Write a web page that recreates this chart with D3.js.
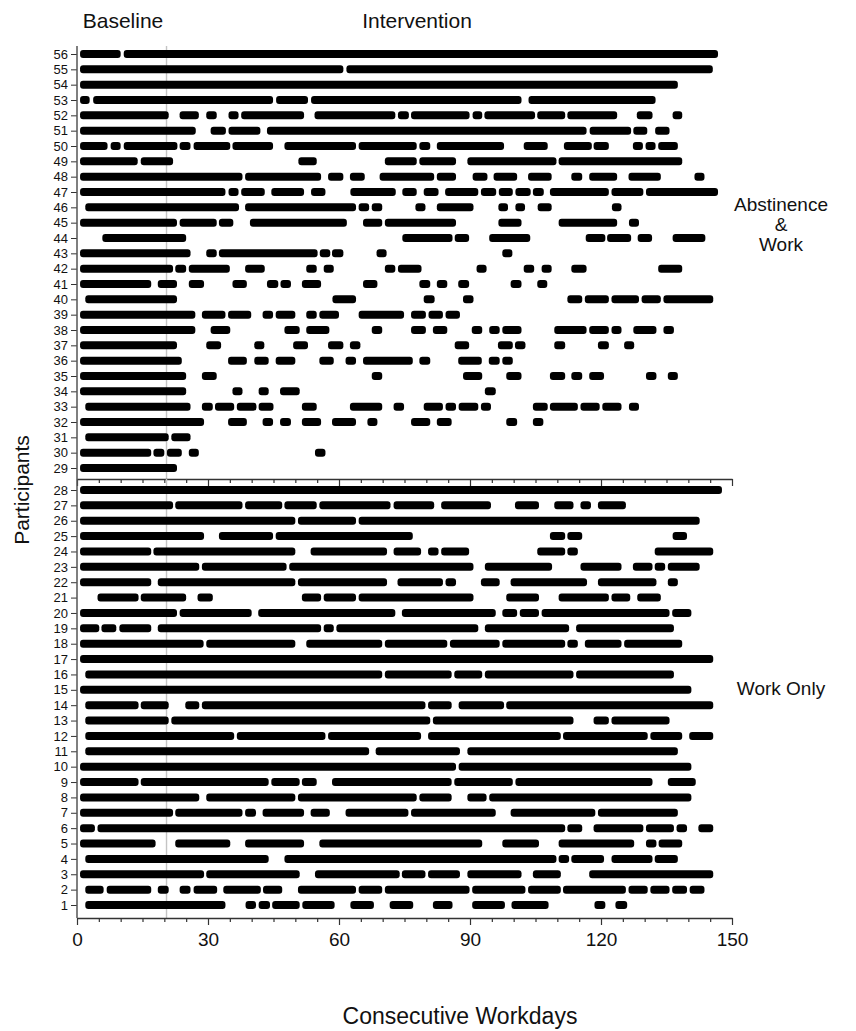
<!DOCTYPE html>
<html lang="en">
<head>
  <meta charset="utf-8">
  <title>Consecutive Workdays</title>
  <script src="https://d3js.org/d3.v7.min.js"></script>
  <style>
    body { margin: 0; background: #fff; }
    svg text { font-family: "Liberation Sans", Arial, Helvetica, sans-serif; fill: #111; }
  </style>
</head>
<body>
<div id="chart"></div>
<script>

// Runs of consecutive workdays per participant.
// Each row is a flat list of pairs: start, end, start, end, ... (in workdays)

// participants 1 .. 28
var workOnly = [
  [1.9,34, 38.6,41, 41.6,44.2, 44.7,51, 51.6,59, 62.6,68, 71.6,77, 81.5,86, 90.5,98, 99.5,108, 118.5,121, 123.3,126],
  [1.9,6.1, 6.8,17, 18.5,21, 23.5,26, 26.7,32.1, 33.5,42.1, 42.6,47, 50.6,63.9, 64.5,69.9, 70.5,89.9, 90.5,102.7, 103.3,110.8, 111.3,125.7, 126.3,130.7, 131.3,135.7, 136.3,139.7, 140.3,143.7],
  [0.7,29.1, 29.6,51, 54.5,73.9, 74.4,79.8, 80.4,87.7, 89.4,101.8, 104.4,110.8, 117.3,145.7],
  [1.9,43.9, 47.5,109.8, 110.3,112.7, 113.2,120.7, 122.4,131.8, 132.3,137.6],
  [0.7,18, 22.5,35.1, 38.5,52, 55.5,92.8, 97.4,105.8, 110.3,127.6, 130.3,132.7, 133.2,138.6],
  [0.7,4.1, 4.7,111.8, 112.3,115.7, 118.3,129.7, 130.3,136.7, 137.3,139.7, 142.3,145.7],
  [0.7,22, 22.5,37.9, 38.5,41, 42.5,52, 53.5,57.9, 61.5,75.9, 76.5,95.9, 99.3,118.7, 119.3,137.6],
  [0.7,28, 29.6,50, 50.6,77.8, 78.4,85.8, 89.4,93.8, 94.4,140.7],
  [0.7,14.1, 14.6,43.9, 44.5,51, 51.5,54.9, 58.4,85.8, 86.4,99.8, 100.4,131.8, 135.3,141.7],
  [0.7,86.8, 87.4,140.7],
  [1.9,66.9, 68.4,87.7, 89.4,137.6],
  [1.9,36, 36.6,56.9, 57.5,78.8, 80.4,110.8, 111.3,130.7, 131.3,138.6, 140.2,145.7],
  [1.9,21, 21.6,80.9, 81.5,113.7, 118.3,121.8, 122.4,135.7],
  [1.9,14.1, 14.6,21, 24.8,28, 28.6,79.8, 80.4,85.8, 87.4,97.8, 98.3,145.7],
  [0.7,140.7],
  [1.9,69.9, 70.5,85.8, 86.4,92.8, 93.4,113.7, 114.3,136.7],
  [0.7,145.7],
  [0.7,29, 29.6,50, 52.5,69.9, 70.5,84.8, 85.4,96.8, 97.4,111.8, 112.3,114.7, 116.3,124.7, 125.3,138.6],
  [0.7,5.1, 5.6,9, 9.7,17, 18.5,55.9, 56.5,58.8, 59.4,91.9, 93.4,112.7, 114.3,136.7],
  [0.7,22.9, 23.5,40, 41.5,72.9, 74.4,95.9, 97.4,100.8, 101.4,105.8, 106.4,135.7, 136.3,140.7],
  [4.7,14.1, 14.6,25, 27.6,31.1, 51.5,55.9, 56.5,63.9, 64.5,90.8, 98.3,105.8, 110.3,121.8, 122.4,126.7, 128.3,133.7],
  [0.7,17, 18.5,50, 50.6,71, 73.4,83.8, 84.4,86.8, 92.5,96.8, 99.3,116.8, 119.3,132.7, 135.3,137.6],
  [0.7,28, 28.6,48, 48.6,90.8, 93.4,108.8, 115.3,124.7, 127.3,131.8, 132.3,134.7, 135.3,142.6],
  [0.7,17, 17.5,50, 53.5,71, 72.5,78.8, 80.4,82.8, 83.4,89.8, 105.4,111.8, 112.3,114.7, 132.3,145.7],
  [0.7,29.1, 32.5,44.9, 45.5,76.9, 108.3,111.8, 112.3,115.7, 136.4,139.7],
  [0.7,50, 50.6,63.9, 64.5,142.6],
  [0.7,22, 22.5,37.9, 38.5,47, 47.5,54.9, 55.5,71.8, 72.5,81.8, 83.4,94.8, 100.3,105.8, 109.3,113.7, 115.3,117.7, 119.3,125.7],
  [0.7,147.7]
];

// participants 29 .. 56
var abstinenceWork = [
  [0.7,22.9],
  [0.7,17, 17.5,20, 20.6,24, 25.6,27.9, 54.5,56.9],
  [1.9,21, 21.6,26],
  [0.7,29.1, 34.6,38.9, 42.5,44.9, 46.5,49, 51.5,55.9, 58.4,63.9, 66.5,68.8, 76.5,80.9, 82.4,85.8, 98.3,100.8, 104.4,106.8],
  [1.9,26, 28.6,31.1, 31.6,36, 36.6,41.1, 41.6,45, 51.5,54.9, 62.5,69.9, 72.5,74.9, 79.4,83.8, 84.4,86.8, 87.4,91.9, 92.5,94.8, 104.4,107.8, 108.3,114.7, 115.3,119.7, 120.3,124.7, 126.4,128.7],
  [0.7,25, 35.6,37.9, 41.6,43.9, 46.5,51, 93.4,95.9],
  [0.7,25, 28.6,32, 67.5,69.9, 88.4,92.8, 98.3,101.8, 108.3,111.8, 113.2,115.7, 117.3,120.7, 130.3,132.7, 135.3,137.6],
  [0.7,24, 34.6,38.9, 40.6,43.9, 45.5,50, 55.5,58.8, 61.5,63.9, 65.5,76.9, 78.4,80.9, 87.3,92.7, 94.3,96.8, 97.4,99.8],
  [0.7,22.9, 29.6,33, 40.6,42.9, 49.5,52.9, 57.5,61, 62.5,64.9, 86.5,89.8, 96.4,99.8, 100.3,102.7, 109.3,111.8, 119.3,121.8, 125.3,127.6],
  [0.7,27.1, 30.6,35.1, 47.5,51, 52.5,57.8, 67.5,69.9, 76.5,79.9, 81.5,84.8, 90.4,92.8, 94.4,96.8, 97.4,101.8, 109.3,116.7, 117.3,121.8, 122.4,124.7, 127.4,132.7, 134.3,136.7],
  [0.7,27.1, 28.6,34, 34.6,39.9, 42.5,44.9, 45.5,50, 52.5,54.9, 55.5,60, 64.5,74.9, 76.5,79.9, 80.5,83.8, 84.4,87.7],
  [1.9,22.9, 58.5,63.9, 79.4,81.9, 88.4,90.8, 112.3,115.7, 116.3,121.8, 122.4,128.7, 129.3,133.7, 134.3,145.7],
  [0.7,17, 18.5,22.9, 25.6,29.1, 35.6,38.9, 43.5,46.1, 46.6,49, 51.5,55.9, 65.5,68.8, 78.4,80.9, 82.4,84.8, 87.3,89.8, 99.3,101.8, 105.4,107.7],
  [0.7,22, 22.5,25, 25.6,35, 38.5,43, 52.5,54.9, 56.5,58.8, 70.5,72.9, 73.5,78.9, 91.5,93.8, 102.3,104.7, 106.4,108.7, 113.2,116.7, 133.1,138.6],
  [0.7,26, 29.6,32, 32.5,55.1, 55.6,58, 58.4,61, 68.6,70.9, 97.4,99.7],
  [5.8,25, 74.5,86, 86.5,89.8, 94.4,103.8, 116.5,121, 121.4,126.9, 128.4,131.7, 136.4,143.9],
  [0.7,22.9, 23.5,32, 32.5,35.8, 39.6,61.8, 65.5,69.9, 70.5,86.8, 96.5,101.8, 110.3,123.7, 126.4,128.7],
  [1.9,37.1, 38.5,63.9, 64.5,66.9, 67.5,69.9, 77.5,79.8, 82.4,90.8, 96.5,98.7, 100.4,102.6, 105.5,108.7, 122.5,124.7],
  [0.7,34, 34.7,37, 37.6,43, 44.5,52, 53.6,56.9, 62.6,73, 74.5,77.8, 79.4,82.8, 84.3,91.9, 92.5,96, 96.6,99.8, 100.4,103.9, 104.4,106.9, 108.3,121.8, 122.4,129.7, 130.3,146.8],
  [0.7,37.9, 38.5,55.9, 57.5,61, 62.5,65.9, 69.3,81.8, 82.4,86.8, 90.6,94, 95.4,100.8, 103.3,108.7, 113.2,115.7, 117.3,123.7, 126.3,133.7, 141.4,143.7],
  [0.7,13.9, 14.6,22, 50.7,54.9, 70.5,77.8, 78.4,86.8, 89.4,109.8, 110.3,138.6],
  [0.7,7, 7.7,10, 10.7,23, 23.5,26, 26.7,35.1, 35.6,44.9, 47.5,63.9, 64.5,77.8, 78.4,80.9, 82.4,97.8, 102.3,107.8, 111.5,117.9, 118.3,121.8, 127.3,129.6, 130.2,132.5, 133.1,137.6],
  [0.7,27.2, 30.6,34.1, 34.7,42, 43.5,116.7, 117.4,126.9, 127.4,130.6, 132.4,135.7],
  [0.7,21, 23.5,27.9, 29.6,32, 34.7,37, 37.6,52, 54.4,72.9, 73.5,76, 76.5,89.9, 90.6,92.8, 93.3,104.9, 105.4,111.8, 112.3,123.7, 128.2,131.8, 136.4,138.6],
  [0.7,2.9, 3.7,44.9, 45.6,52.9, 53.6,101.8, 103.4,132.5],
  [0.7,137.6],
  [0.7,61, 61.7,145.6],
  [0.7,10, 10.7,146.8]
];

var xTicks = [0, 30, 60, 90, 120, 150];
var baselineEnd = 20.5;   // last baseline day (grey divider)
var phaseLabels = ["Baseline", "Intervention"];
var groupLabels = [["Abstinence", "&", "Work"], ["Work Only"]];

var width = 856, height = 1031;

var svg = d3.select("#chart").append("svg")
    .attr("width", width)
    .attr("height", height);

var x = d3.scaleLinear().domain([0, 150]).range([77, 732]);

// panel layout (top = abstinence & work, bottom = work only)
var panels = [
  { rows: abstinenceWork, first: 29, yTop: 54, yBot: 468, lineTop: 46, axisY: 479, showLabels: false, group: groupLabels[0], groupY: 211 },
  { rows: workOnly, first: 1, yTop: 490, yBot: 905, lineTop: 479, axisY: 918, showLabels: true, group: groupLabels[1], groupY: 695 }
];

panels.forEach(function(p) {
  var n = p.rows.length;
  var ids = d3.range(p.first + n - 1, p.first - 1, -1);

  var y = d3.scalePoint().domain(ids).range([p.yTop, p.yBot]);

  // grey baseline divider
  svg.append("line")
      .attr("x1", x(baselineEnd)).attr("x2", x(baselineEnd))
      .attr("y1", p.lineTop).attr("y2", p.axisY)
      .attr("stroke", "#c4c4c4")
      .attr("stroke-width", 1.4);

  // y axis
  var gy = svg.append("g")
      .attr("transform", "translate(" + x(0) + ",0)")
      .call(d3.axisLeft(y).tickSize(6).tickPadding(3));
  gy.select(".domain").remove();
  gy.selectAll("text").style("font-size", "13px");
  gy.selectAll("line").attr("stroke", "#333");
  svg.append("line")
      .attr("x1", x(0)).attr("x2", x(0))
      .attr("y1", p.lineTop).attr("y2", p.axisY)
      .attr("stroke", "#555")
      .attr("stroke-width", 1.5);

  // x axis with minor ticks every 5 days
  var gx = svg.append("g")
      .attr("transform", "translate(0," + p.axisY + ")")
      .call(d3.axisBottom(x)
        .tickValues(d3.range(0, 151, 5))
        .tickSize(7)
        .tickSizeOuter(0)
        .tickPadding(8)
        .tickFormat(function(d) { return (p.showLabels && xTicks.indexOf(d) >= 0) ? d : ""; }));
  gx.select(".domain").attr("stroke", "#333").attr("stroke-width", 1.3);
  gx.selectAll(".tick line")
      .attr("stroke", "#333")
      .attr("stroke-width", 1.2)
      .attr("y2", function(d) { return d % 30 === 0 ? 7 : 4; });
  gx.selectAll("text").style("font-size", "19px");

  // attendance runs
  var segs = [];
  p.rows.forEach(function(r, i) {
    for (var k = 0; k < r.length; k += 2) {
      segs.push({ id: p.first + i, s: r[k], e: r[k + 1] });
    }
  });

  svg.append("g").selectAll("rect")
      .data(segs)
    .enter().append("rect")
      .attr("x", function(d) { return x(d.s); })
      .attr("width", function(d) { return x(d.e) - x(d.s); })
      .attr("y", function(d) { return y(d.id) - 4; })
      .attr("height", 8)
      .attr("rx", 3)
      .attr("fill", "#000");

  // group label on the right
  svg.append("text")
      .attr("x", 781)
      .attr("y", p.groupY)
      .attr("text-anchor", "middle")
      .style("font-size", "19px")
    .selectAll("tspan")
      .data(p.group)
    .enter().append("tspan")
      .attr("x", 781)
      .attr("dy", function(d, i) { return i === 0 ? 0 : 20; })
      .text(function(d) { return d; });
});

// phase labels
svg.append("text")
    .attr("x", 123).attr("y", 28)
    .attr("text-anchor", "middle")
    .style("font-size", "21px")
    .text(phaseLabels[0]);
svg.append("text")
    .attr("x", 417).attr("y", 28)
    .attr("text-anchor", "middle")
    .style("font-size", "21px")
    .text(phaseLabels[1]);

// axis titles
svg.append("text")
    .attr("x", 460).attr("y", 1024)
    .attr("text-anchor", "middle")
    .style("font-size", "23px")
    .text("Consecutive Workdays");
svg.append("text")
    .attr("transform", "translate(29,490) rotate(-90)")
    .attr("text-anchor", "middle")
    .style("font-size", "21px")
    .text("Participants");

</script>
</body>
</html>
